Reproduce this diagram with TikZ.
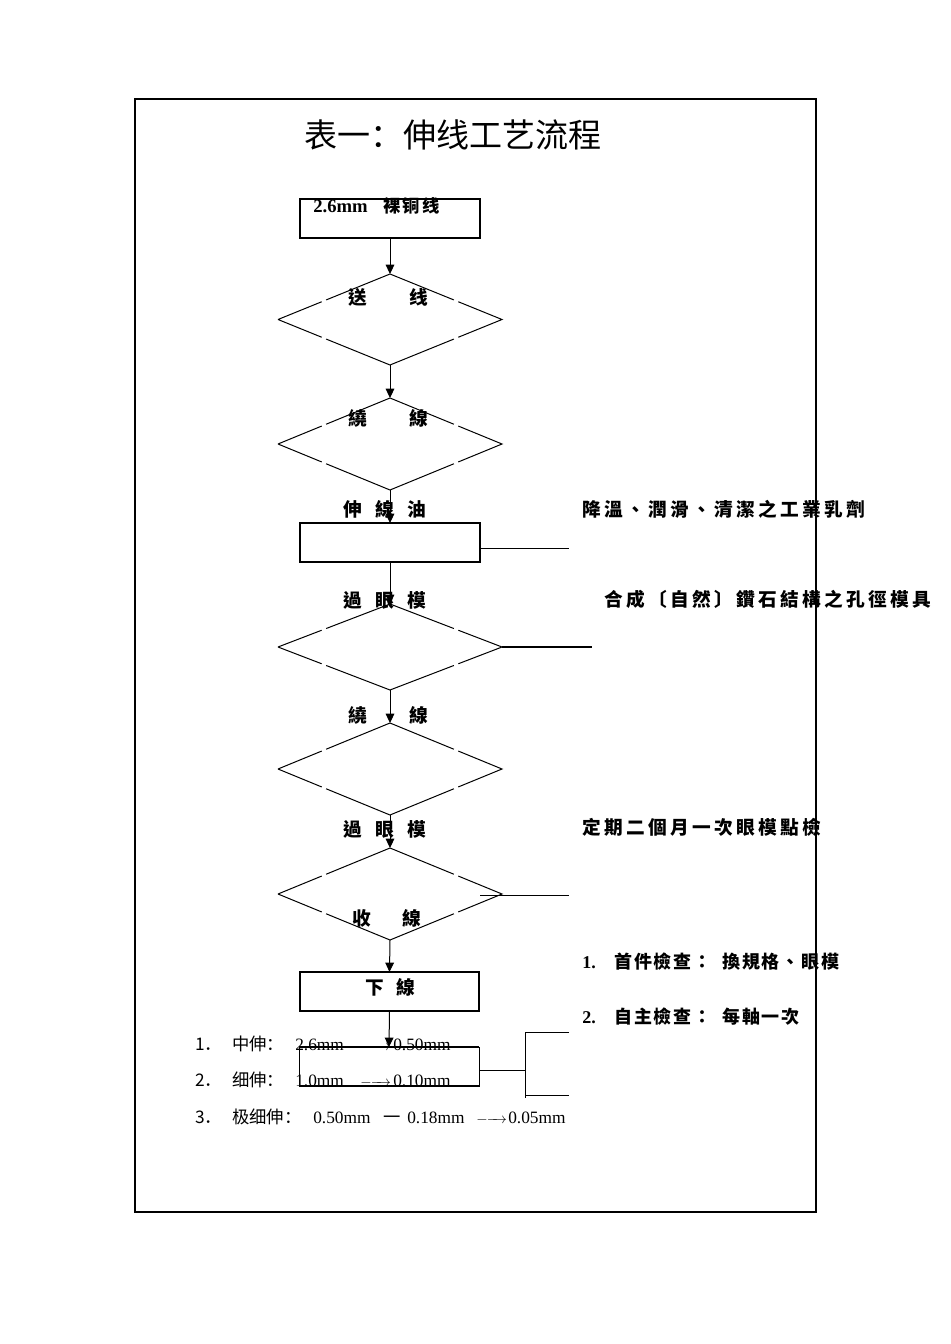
\documentclass[tikz,border=0pt]{standalone}
\usepackage{fontspec}
\setmainfont{Liberation Serif}
\newfontfamily\cjk{Noto Sans CJK TC}
\newfontfamily\cjksc{Noto Sans CJK SC}
\newfontfamily\cjkls[LetterSpace=18]{Noto Sans CJK TC}
\newfontfamily\cjklt[LetterSpace=10]{Noto Sans CJK TC}
\newfontfamily\cjkbox[LetterSpace=14]{Noto Sans CJK TC}
\usetikzlibrary{shapes.geometric,arrows.meta,calc}
\newcommand\gapdmd[1]{\draw[ln] (#1.west) -- ($(#1.west)!0.39!(#1.north)$) ($(#1.west)!0.43!(#1.north)$) -- (#1.north) -- ($(#1.north)!0.57!(#1.east)$) ($(#1.north)!0.61!(#1.east)$) -- (#1.east) -- ($(#1.east)!0.39!(#1.south)$) ($(#1.east)!0.43!(#1.south)$) -- (#1.south) -- ($(#1.south)!0.57!(#1.west)$) ($(#1.south)!0.61!(#1.west)$) -- (#1.west);}
\newcommand\dasharrow{{\fontsize{11pt}{13pt}\selectfont$-\mkern-1mu-\mkern-12mu\rightarrow$}}
\begin{document}
\begin{tikzpicture}[x=0.75pt,y=-0.75pt,
  ln/.style={line width=0.75pt},
  box/.style={draw,line width=0.8pt,minimum width=135pt,minimum height=29.25pt,inner sep=0pt,outer sep=0pt},
  dmd/.style={diamond,draw=none,minimum width=168pt,minimum height=69pt,inner sep=0pt,outer sep=0pt},
  lab/.style={font=\cjk\bfseries\fontsize{14pt}{16pt}\selectfont,inner sep=0pt},
  note/.style={font=\cjkls\bfseries\fontsize{14pt}{16pt}\selectfont,anchor=west,inner sep=0pt},
  chk/.style={font=\fontsize{13.5pt}{16pt}\selectfont,anchor=west,inner sep=0pt},
  lst/.style={font=\fontsize{13pt}{15pt}\selectfont,anchor=west,inner sep=0pt},
  arr/.style={-{Triangle[length=7pt,width=6.5pt]},line width=0.75pt}]
\useasboundingbox (0,0) rectangle (950,1344);
% frame
\draw[line width=1.5pt] (135,99) rectangle (816,1212);
% title
\node[inner sep=0pt,font=\cjksc\fontsize{24.75pt}{28pt}\selectfont] (title) at (453,135) {表一：伸线工艺流程};
% boxes
\node[box] (b1) at (390,218.5) {};
\node[box] (b2) at (390,542.5) {};
\node[box,minimum width=134.25pt] (b3) at (389.5,991.5) {};
\node[box,line width=0.6pt] (b4) at (389,1066.5) {};
\draw[line width=1.5pt] (b4.north west) -- (b4.north east);
\draw[line width=1.5pt] (b4.south west) -- (b4.south east);
% diamonds
\node[dmd,minimum height=68.25pt] (d1) at (390,319.5) {};
\node[dmd] (d2) at (390,444) {};
\node[dmd,minimum height=64.5pt] (d3) at (390,647) {};
\node[dmd] (d4) at (390,769) {};
\node[dmd] (d5) at (390,894) {};
\gapdmd{d1}
\gapdmd{d2}
\gapdmd{d3}
\gapdmd{d4}
\gapdmd{d5}
% connectors
\draw[arr] (b1.south) -- (d1.north);
\draw[arr] (d1.south) -- (d2.north);
\draw[arr] (d2.south) -- (b2.north);
\draw[arr] (b2.south) -- (d3.north);
\draw[arr] (d3.south) -- (d4.north);
\draw[arr] (d4.south) -- (d5.north);
\draw[arr] (d5.south) -- (b3.north);
\draw[arr] (b3.south) -- (b4.north);
% side lines
\coordinate (c2) at (569,548);
\draw[ln] (b2.east |- c2) -- (c2);
\coordinate (c3) at (592,647);
\draw[line width=1.5pt] (d3.east) -- (c3);
\coordinate (c5a) at (480,895);
\coordinate (c5b) at (569,895);
\draw[ln] (c5a) -- (c5b);
\coordinate (br) at (525,1070);
\coordinate (brt) at (569,1032);
\coordinate (brb) at (569,1095);
\draw[ln] (b4.east |- br) -- (br);
\draw[ln] (brt) -- (brt -| br) -- ($(br)+(0,28)$);
\draw[ln] (brb -| br) -- (brb);
% labels in the chart
\node[inner sep=0pt,anchor=west] (t1) at (313,206) {\bfseries\fontsize{14pt}{16pt}\selectfont 2.6mm\hspace{11.5pt}{\cjkbox\fontsize{13pt}{15pt}\selectfont 裸铜线}};
\node[lab] (l1) at (388.5,297) {送\hspace{31.75pt}线};
\node[lab] (l2) at (388.5,418) {繞\hspace{31.75pt}線};
\node[lab] (l3) at (385,509) {伸\hspace{10pt}線\hspace{10pt}油};
\node[lab] (l4) at (385,600) {過\hspace{10pt}眼\hspace{10pt}模};
\node[lab] (l5) at (388.5,715) {繞\hspace{31.75pt}線};
\node[lab] (l6) at (385,829) {過\hspace{10pt}眼\hspace{10pt}模};
\node[lab] (l7) at (387,918) {收\hspace{23.5pt}線};
\node[lab] (l8) at (390.5,987) {下\hspace{9.25pt}線};
% right notes
\node[note] (n1) at (582,509) {降溫、潤滑、清潔之工業乳劑};
\node[note] (n2) at (604,599) {合成〔自然〕鑽石結構之孔徑模具};
\node[note] (n3) at (582,827) {定期二個月一次眼模點檢};
\node[chk] (k1) at (582,962) {\makebox[24pt][l]{\bfseries 1.}\makebox[81pt][l]{\cjklt\bfseries 首件檢查：}{\cjklt\bfseries 換規格、眼模}};
\node[chk] (k2) at (582,1017) {\makebox[24pt][l]{\bfseries 2.}\makebox[81pt][l]{\cjklt\bfseries 自主檢查：}{\cjklt\bfseries 每軸一次}};
% bottom list
\node[lst] (s1) at (195,1044) {\makebox[27.75pt][l]{\cjksc 1．}\makebox[47.25pt][l]{\cjksc 中伸：}\makebox[48.75pt][l]{2.6mm}\makebox[24.75pt][l]{\dasharrow}0.50mm};
\node[lst] (s2) at (195,1080) {\makebox[27.75pt][l]{\cjksc 2．}\makebox[47.25pt][l]{\cjksc 细伸：}\makebox[48.75pt][l]{1.0mm}\makebox[24.75pt][l]{\dasharrow}0.10mm};
\node[lst] (s3) at (195,1117) {\makebox[27.75pt][l]{\cjksc 3．}\makebox[60.75pt][l]{\cjksc 极细伸：}\makebox[52.5pt][l]{0.50mm}\makebox[18pt][l]{\cjksc 一}\makebox[51.75pt][l]{0.18mm}\makebox[24pt][l]{\dasharrow}0.05mm};
\end{tikzpicture}
\end{document}
